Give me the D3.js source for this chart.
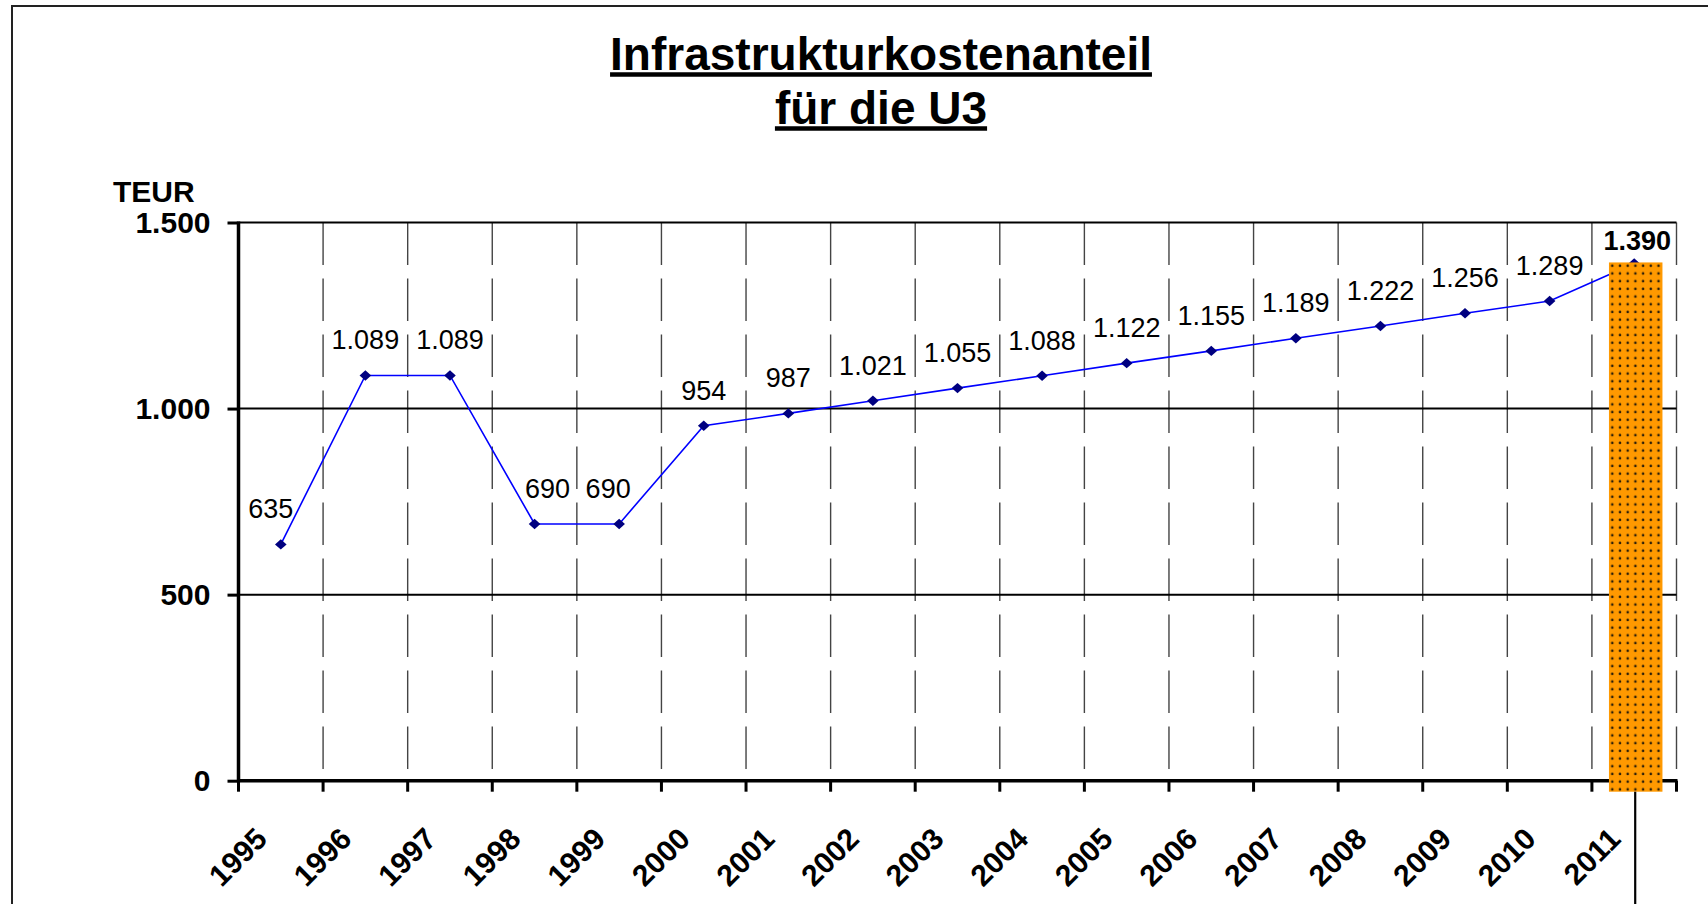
<!DOCTYPE html>
<html>
<head>
<meta charset="utf-8">
<script src="https://cdn.jsdelivr.net/npm/d3@7"></script>
<style>
  html, body { margin: 0; padding: 0; background: #fff; }
  svg { display: block; font-family: "Liberation Sans", Arial, sans-serif; }
</style>
</head>
<body>
<div id="chart"></div>
<script>
// Daten (TEUR)
const years = ['1995', '1996', '1997', '1998', '1999', '2000', '2001', '2002', '2003',
  '2004', '2005', '2006', '2007', '2008', '2009', '2010', '2011'];
const costs = [635, 1089, 1089, 690, 690, 954, 987, 1021, 1055, 1088, 1122, 1155, 1189,
  1222, 1256, 1289, 1390];
const yTickValues = [0, 500, 1000, 1500];
const titleLines = ['Infrastrukturkostenanteil', 'für die U3'];
const unitLabel = 'TEUR';
const highlightYear = '2011';

// manuelle Label-Verschiebungen wie im Original (px)
const labelNudge = { '1995': -10, '1998': 13, '1999': -11, '2011': 3 };

const W = 1708, H = 904;
const plot = { left: 238.5, right: 1676.5, top: 222.5, bottom: 780.7 };

const de = d3.formatLocale({ decimal: ',', thousands: '.', grouping: [3], currency: ['', ' €'] });
const fmt = de.format(',.0f');

const svg = d3.select('#chart').append('svg')
  .attr('width', W).attr('height', H)
  .attr('viewBox', `0 0 ${W} ${H}`);

svg.append('rect').attr('width', W).attr('height', H).attr('fill', '#fff');

// Rahmen (nur oben und links sichtbar)
svg.append('path')
  .attr('d', `M12,${H} L12,6 L${W},6`)
  .attr('fill', 'none')
  .attr('stroke', '#222')
  .attr('stroke-width', 2);

const x = d3.scaleBand().domain(years).range([plot.left, plot.right]).paddingInner(0).paddingOuter(0);
const y = d3.scaleLinear().domain([0, 1500]).range([plot.bottom, plot.top]);
const cx = d => x(d) + x.bandwidth() / 2;

// Punktraster für den Balken
const defs = svg.append('defs');
const pat = defs.append('pattern')
  .attr('id', 'dots')
  .attr('patternUnits', 'userSpaceOnUse')
  .attr('width', 7.7).attr('height', 7.7)
  .attr('x', 1608.5).attr('y', 262);
pat.append('rect').attr('width', 7.7).attr('height', 7.7).attr('fill', '#ff9900');
pat.append('circle').attr('cx', 3.8).attr('cy', 3.8).attr('r', 1.3).attr('fill', '#2a1e0a');

// ---- Gitter ----
const boundaries = years.map(d => x(d)).concat([plot.right]);

svg.append('g').attr('class', 'grid grid-x')
  .selectAll('line')
  .data(boundaries.slice(1))
  .join('line')
  .attr('x1', d => d).attr('x2', d => d)
  .attr('y1', plot.top).attr('y2', plot.bottom)
  .attr('stroke', '#444')
  .attr('stroke-width', 1.4)
  .attr('stroke-dasharray', '42.5,13.5');

svg.append('g').attr('class', 'grid grid-y')
  .selectAll('line')
  .data(yTickValues.filter(v => v > 0))
  .join('line')
  .attr('x1', plot.left).attr('x2', plot.right)
  .attr('y1', d => y(d)).attr('y2', d => y(d))
  .attr('stroke', '#000')
  .attr('stroke-width', 2);

// ---- Achsen ----
const yAxis = d3.axisLeft(y).tickValues(yTickValues).tickSize(11).tickPadding(17).tickFormat(fmt);
svg.append('g')
  .attr('class', 'axis axis-y')
  .attr('transform', `translate(${plot.left},0)`)
  .call(yAxis)
  .call(g => {
    g.select('.domain').remove();
    g.selectAll('.tick line').attr('stroke', '#000').attr('stroke-width', 3);
    g.selectAll('.tick text')
      .attr('fill', '#000')
      .attr('font-size', 30)
      .attr('font-weight', 'bold')
      .attr('font-family', '"Liberation Sans", Arial, sans-serif');
  });
svg.append('line')
  .attr('x1', plot.left).attr('x2', plot.left)
  .attr('y1', plot.top - 1).attr('y2', plot.bottom + 1.5)
  .attr('stroke', '#000').attr('stroke-width', 3.5);

// x-Achse: Striche an den Kategoriegrenzen
const gx = svg.append('g').attr('class', 'axis axis-x');
gx.append('line')
  .attr('x1', plot.left).attr('x2', plot.right + 1)
  .attr('y1', plot.bottom).attr('y2', plot.bottom)
  .attr('stroke', '#000').attr('stroke-width', 3.5);
gx.selectAll('line.tick')
  .data(boundaries)
  .join('line')
  .attr('class', 'tick')
  .attr('x1', d => d).attr('x2', d => d)
  .attr('y1', plot.bottom).attr('y2', plot.bottom + 11)
  .attr('stroke', '#000').attr('stroke-width', 3);

gx.selectAll('text')
  .data(years)
  .join('text')
  .attr('transform', d => `translate(${cx(d) - 12},${plot.bottom + 60}) rotate(-45)`)
  .attr('text-anchor', 'end')
  .attr('font-size', 30)
  .attr('font-weight', 'bold')
  .attr('fill', '#000')
  .text(d => d);

svg.append('text')
  .attr('x', 113).attr('y', 201.5)
  .attr('font-size', 30)
  .attr('font-weight', 'bold')
  .text(unitLabel);

// ---- Linie + Marker ----
const pts = years.map((d, i) => ({ year: d, v: costs[i] }));

svg.append('path')
  .datum(pts)
  .attr('fill', 'none')
  .attr('stroke', '#0000ff')
  .attr('stroke-width', 1.6)
  .attr('d', d3.line().x(d => cx(d.year)).y(d => y(d.v)));

svg.append('g').attr('class', 'markers')
  .selectAll('path')
  .data(pts)
  .join('path')
  .attr('transform', d => `translate(${cx(d.year)},${y(d.v)})`)
  .attr('d', 'M0,-5.2 L5.8,0 L0,5.2 L-5.8,0 Z')
  .attr('fill', '#000080');

// ---- hervorgehobener Balken 2011 ----
const hv = costs[years.indexOf(highlightYear)];
const barW = 53.5;
svg.append('rect')
  .attr('x', cx(highlightYear) - barW / 2 + 1.5)
  .attr('y', y(hv) - 1)
  .attr('width', barW)
  .attr('height', plot.bottom + 11 - (y(hv) - 1))
  .attr('fill', 'url(#dots)');
svg.append('line')
  .attr('x1', cx(highlightYear) + 1).attr('x2', cx(highlightYear) + 1)
  .attr('y1', plot.bottom + 11).attr('y2', H)
  .attr('stroke', '#000').attr('stroke-width', 2.2);

// ---- Datenbeschriftung ----
svg.append('g').attr('class', 'labels')
  .selectAll('text')
  .data(pts)
  .join('text')
  .attr('x', d => cx(d.year) + (labelNudge[d.year] || 0))
  .attr('y', d => d.year === highlightYear ? y(d.v) - 13 : y(d.v) - 26)
  .attr('text-anchor', 'middle')
  .attr('font-size', 27)
  .attr('font-weight', d => d.year === highlightYear ? 'bold' : 'normal')
  .attr('fill', '#000')
  .text(d => fmt(d.v));

// ---- Titel (unterstrichen) ----
const titleG = svg.append('g').attr('class', 'title');
const baselines = [69.5, 123.5];
titleLines.forEach((t, i) => {
  const txt = titleG.append('text')
    .attr('x', 881).attr('y', baselines[i])
    .attr('text-anchor', 'middle')
    .attr('font-size', 46)
    .attr('font-weight', 'bold')
    .attr('fill', '#000')
    .text(t);
  const len = txt.node().getComputedTextLength();
  titleG.append('line')
    .attr('x1', 881 - len / 2).attr('x2', 881 + len / 2)
    .attr('y1', baselines[i] + 5).attr('y2', baselines[i] + 5)
    .attr('stroke', '#000')
    .attr('stroke-width', 4.5);
});
</script>
</body>
</html>
